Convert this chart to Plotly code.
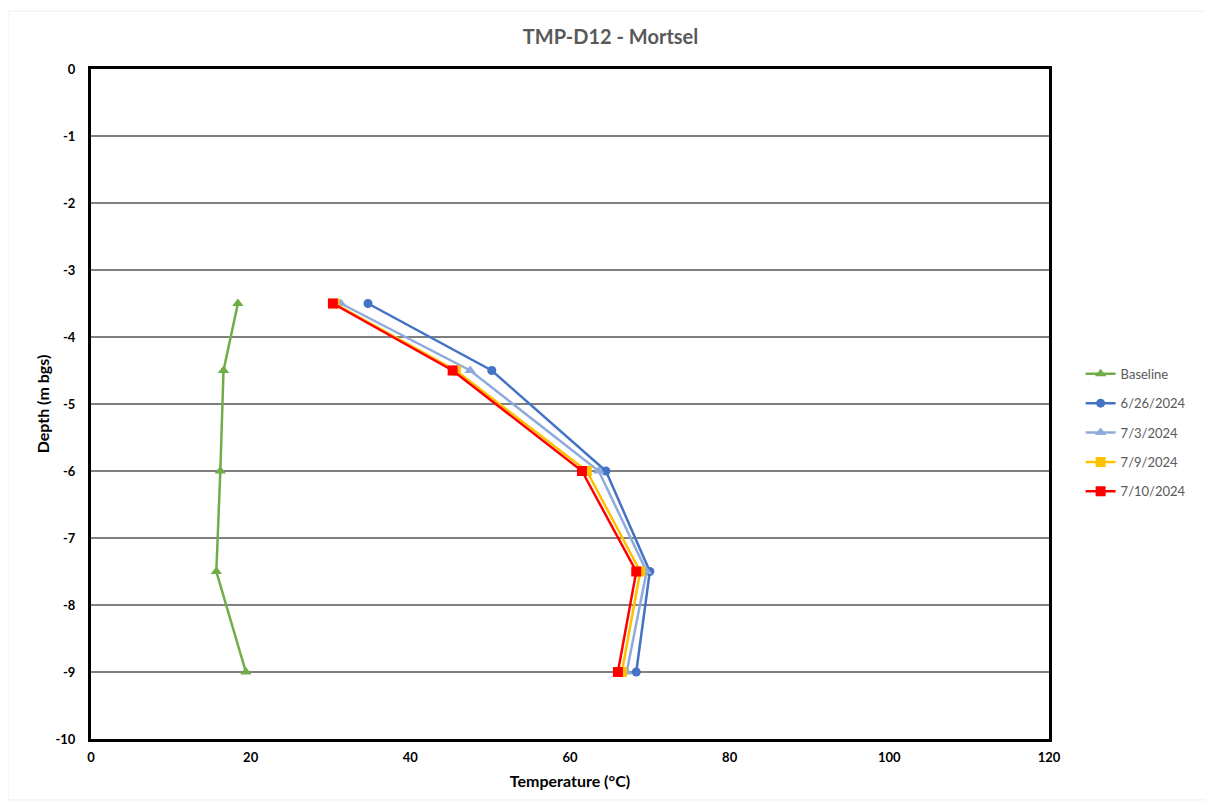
import plotly.graph_objects as go

depths = [-3.5, -4.5, -6, -7.5, -9]
series_names = ["Baseline", "6/26/2024", "7/3/2024", "7/9/2024", "7/10/2024"]
baseline = [18.4, 16.6, 16.2, 15.7, 19.4]
d_0626 = [34.7, 50.2, 64.5, 70.0, 68.3]
d_0703 = [31.3, 47.5, 63.6, 69.6, 67.1]
d_0709 = [30.5, 45.7, 62.1, 68.8, 66.5]
d_0710 = [30.3, 45.3, 61.5, 68.3, 66.0]
colors = ["#70AD47", "#4472C4", "#8FAADC", "#FFC000", "#FF0000"]
symbols = ["triangle-up", "circle", "triangle-up", "square", "square"]
x_ticks = [0, 20, 40, 60, 80, 100, 120]
y_ticks = [0, -1, -2, -3, -4, -5, -6, -7, -8, -9, -10]

FONT = "Lato, 'Open Sans', sans-serif"

fig = go.Figure()
for i, (name, vals) in enumerate(zip(series_names, [baseline, d_0626, d_0703, d_0709, d_0710])):
    fig.add_trace(go.Scatter(
        x=vals, y=depths, mode="lines+markers", name=name,
        legendgroup=name,
        line=dict(color=colors[i], width=2.5),
        marker=dict(color=colors[i], symbol=symbols[i], size=10 if symbols[i] != "circle" else 9),
    ))

fig.update_layout(
    width=1205, height=797,
    paper_bgcolor="white", plot_bgcolor="white",
    margin=dict(l=83, r=164, t=61, b=66),
    title=dict(text="<b>TMP-D12 - Mortsel</b>", x=0.5, xanchor="center",
               y=1 - 29 / 797, yanchor="middle",
               font=dict(family=FONT, size=20, color="#595959")),
    font=dict(family=FONT),
    showlegend=True,
    legend=dict(x=1.033, xanchor="left", y=0.5675, yanchor="top",
                font=dict(family=FONT, size=13, color="#595959"),
                tracegroupgap=9.5, bgcolor="rgba(0,0,0,0)"),
)

fig.update_xaxes(
    range=[0, 120], tickvals=x_ticks, ticktext=[f"<b>{v}</b>" for v in x_ticks],
    showgrid=False, zeroline=False,
    showline=True, mirror=True, linecolor="black", linewidth=3,
    ticks="", ticklabelstandoff=4, tickfont=dict(family=FONT, size=13, color="black"),
    title=dict(text="<b>Temperature (°C)</b>", font=dict(family=FONT, size=16, color="black"), standoff=13),
)
fig.update_yaxes(
    range=[-10, 0], tickvals=y_ticks, ticktext=[f"<b>{v}</b>" for v in y_ticks],
    showgrid=True, gridcolor="#7f7f7f", gridwidth=1.5, zeroline=False,
    showline=True, mirror=True, linecolor="black", linewidth=3,
    ticks="", ticklabelstandoff=10, tickfont=dict(family=FONT, size=13, color="black"),
    title=dict(text="<b>Depth (m bgs)</b>", font=dict(family=FONT, size=16, color="black"), standoff=2),
)

fig.add_shape(type="rect", xref="paper", yref="paper",
              x0=-(91 - 8) / 958, x1=(1210 - 91) / 958, y0=-(800 - 739) / 671, y1=(739 - 10) / 671,
              line=dict(color="#eeeeee", width=1), layer="below")

fig.write_html("out.html")
